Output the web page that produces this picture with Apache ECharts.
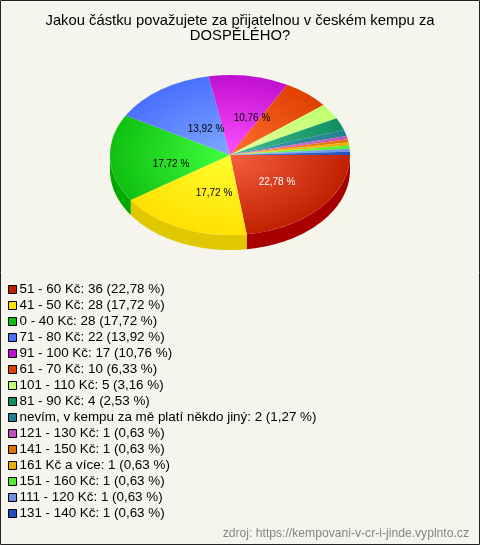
<!DOCTYPE html>
<html><head><meta charset="utf-8">
<style>html,body{margin:0;padding:0;background:#f5f5ee}#c{width:480px;height:545px}</style>
<script src="https://cdn.jsdelivr.net/npm/echarts@6/dist/echarts.min.js"></script>
</head><body><div id="c"></div>
<script>
const categories = ['51 - 60 Kč','41 - 50 Kč','0 - 40 Kč','71 - 80 Kč','91 - 100 Kč','61 - 70 Kč','101 - 110 Kč','81 - 90 Kč','nevím, v kempu za mě platí někdo jiný','121 - 130 Kč','141 - 150 Kč','161 Kč a více','151 - 160 Kč','111 - 120 Kč','131 - 140 Kč'];
const counts = [36,28,28,22,17,10,5,4,2,1,1,1,1,1,1];
const percents = ['22,78','17,72','17,72','13,92','10,76','6,33','3,16','2,53','1,27','0,63','0,63','0,63','0,63','0,63','0,63'];
const edgeColors = ['#c02000','#ffe000','#10c010','#4a70ff','#c010d0','#e04000','#c0ff70','#109060','#208090','#c050c0','#e07000','#e8b000','#50f030','#7090e0','#2050c0'];
const centerColors = ['#f86040','#ffff30','#40ff40','#80a8ff','#ff50ff','#ff7030','#e0ffa0','#40c090','#40a0b0','#e080e0','#ff9030','#ffd030','#80ff60','#a0c0ff','#5080e0'];
const wallColors = ['#a80000','#e0c800','#00a800'];
const labelOffsets = [[47,27],[-16,38],[-59,9],[-24,-26],[22,-37]];

const CX=230, CY=155, RX=120, RY=80, DEPTH=15;
const total = counts.reduce((a,b)=>a+b,0);
const startFrac = [];
counts.reduce((acc,v,i)=>{startFrac[i]=acc;return acc+v/total;},0);

function renderSlice(i){
  return function(params, api){
    const a0 = startFrac[i]*Math.PI*2;
    const a1 = a0 + api.value(0)/total*Math.PI*2;
    const children = [];
    const w0 = Math.min(a0,Math.PI), w1 = Math.min(a1,Math.PI);
    if (w1>w0){
      const top=[],bot=[];
      for(let k=0;k<=40;k++){
        const t=w0+(w1-w0)*k/40;
        top.push([CX+RX*Math.cos(t),CY+RY*Math.sin(t)]);
        bot.unshift([CX+RX*Math.cos(t),CY+RY*Math.sin(t)+DEPTH]);
      }
      children.push({type:'polygon',z2:1,shape:{points:top.concat(bot)},style:{fill:wallColors[i%wallColors.length]}});
    }
    children.push({type:'group',x:CX,y:CY,scaleY:RY/RX,children:[{
      type:'sector',z2:2,
      shape:{cx:0,cy:0,r0:0,r:RX,startAngle:a0,endAngle:a1,clockwise:true},
      style:{fill:{type:'radial',x:0,y:0,r:RX,global:true,colorStops:[{offset:0,color:centerColors[i]},{offset:1,color:edgeColors[i]}]}}
    }]});
    if(labelOffsets[i]){
      children.push({type:'text',z2:5,x:CX+labelOffsets[i][0],y:CY+labelOffsets[i][1],
        style:{text:percents[i]+' %',fill:i===0?'#fff':'#000',font:'10px "Liberation Sans"',align:'center',verticalAlign:'middle'}});
    }
    return {type:'group',children};
  };
}
const names = categories.map((c,i)=>c+': '+counts[i]+' ('+percents[i]+' %)');
const chart = echarts.init(document.getElementById('c'),null,{renderer:'canvas'});
chart.setOption({
  animation:false,
  backgroundColor:'#f5f5ee',
  title:{text:'Jakou částku považujete za přijatelnou v českém kempu za\nDOSPĚLÉHO?',left:235,top:8,textAlign:'center',
    textStyle:{fontFamily:'Liberation Sans',fontSize:14.8,fontWeight:'normal',color:'#000',lineHeight:15}},
  legend:{orient:'vertical',left:8,top:283,itemWidth:8,itemHeight:8,itemGap:3,selectedMode:false,padding:0,
    icon:'rect',itemStyle:{borderColor:'#000',borderWidth:1},
    textStyle:{fontFamily:'Liberation Sans',fontSize:13.4,color:'#000',padding:[0,0,0,-2],lineHeight:13},
    data:names},
  graphic:[
    {type:'rect',shape:{x:0.5,y:0.5,width:479,height:544},style:{fill:'none',stroke:'#222',lineWidth:1},silent:true},
    {type:'text',right:11,top:528,style:{text:'zdroj: https://kempovani-v-cr-i-jinde.vyplnto.cz',fill:'#858585',font:'12.15px "Liberation Sans"'}}
  ],
  series:names.map((n,i)=>({type:'custom',name:n,coordinateSystem:'none',itemStyle:{color:edgeColors[i]},
    data:[[counts[i]]],renderItem:renderSlice(i),silent:true}))
});
</script></body></html>
